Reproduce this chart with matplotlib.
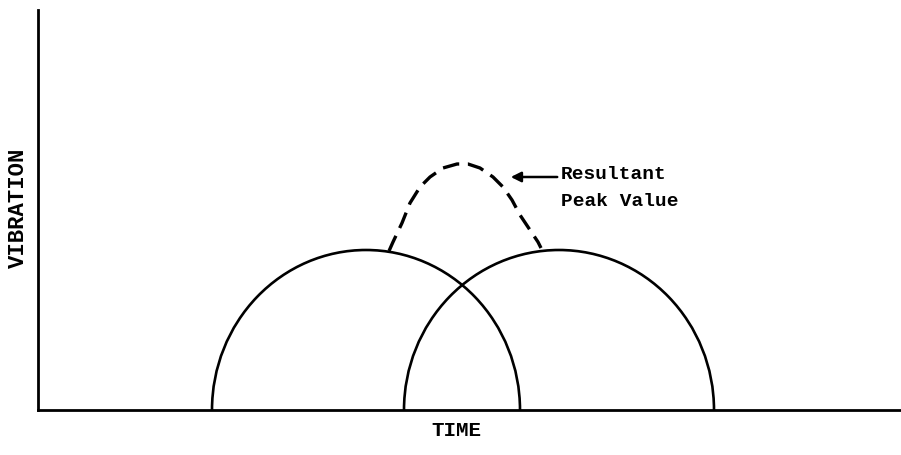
import matplotlib.pyplot as plt
from matplotlib.patches import Arc

# two single vibration pulses (semi-ellipses): centre, half width, height
pulse_centre = [328, 521]
pulse_halfwidth = [154, 155]
pulse_height = [160, 160]

# resultant peak (dashed)
peak_x = [351, 355, 364, 372, 382, 392, 405, 419, 430, 442, 455, 465, 474, 482, 492, 500, 503]
peak_y = [159, 168, 187, 207, 223, 233, 242, 246, 246, 242, 233, 223, 210, 195, 180, 168, 162]

font = ['Liberation Mono', 'DejaVu Sans Mono']

fig = plt.figure(figsize=(9.01, 4.55), dpi=100)
ax = fig.add_axes([38 / 901, 45 / 455, 863 / 901, 400 / 455])
ax.set_xlim(0, 863)
ax.set_ylim(0, 400)

for c, w, h in zip(pulse_centre, pulse_halfwidth, pulse_height):
    ax.add_patch(Arc((c, 0), 2 * w, 2 * h, theta1=0, theta2=180, color='black', lw=1.9))

ax.plot(peak_x, peak_y, color='black', lw=2.4, dashes=(5, 2.6))

# arrow + label
ax.annotate('', xy=(470, 233), xytext=(522, 233),
            arrowprops=dict(arrowstyle='-|>', color='black', lw=1.8, mutation_scale=15))
ax.text(523, 244, 'Resultant', family=font, fontsize=14, fontweight='bold', va='top', ha='left')
ax.text(523, 217, 'Peak Value', family=font, fontsize=14, fontweight='bold', va='top', ha='left')

for s in ['top', 'right']:
    ax.spines[s].set_visible(False)
ax.spines['left'].set_linewidth(2)
ax.spines['bottom'].set_linewidth(2)
ax.set_xticks([])
ax.set_yticks([])

fig.text(456 / 901, 1 - 430 / 455, 'TIME', family=font, fontsize=15, fontweight='bold', ha='center', va='center')
fig.text(18 / 901, 1 - 208 / 455, 'VIBRATION', family=font, fontsize=16, fontweight='bold',
         rotation=90, ha='center', va='center')

fig.savefig('out.png', dpi=100)
